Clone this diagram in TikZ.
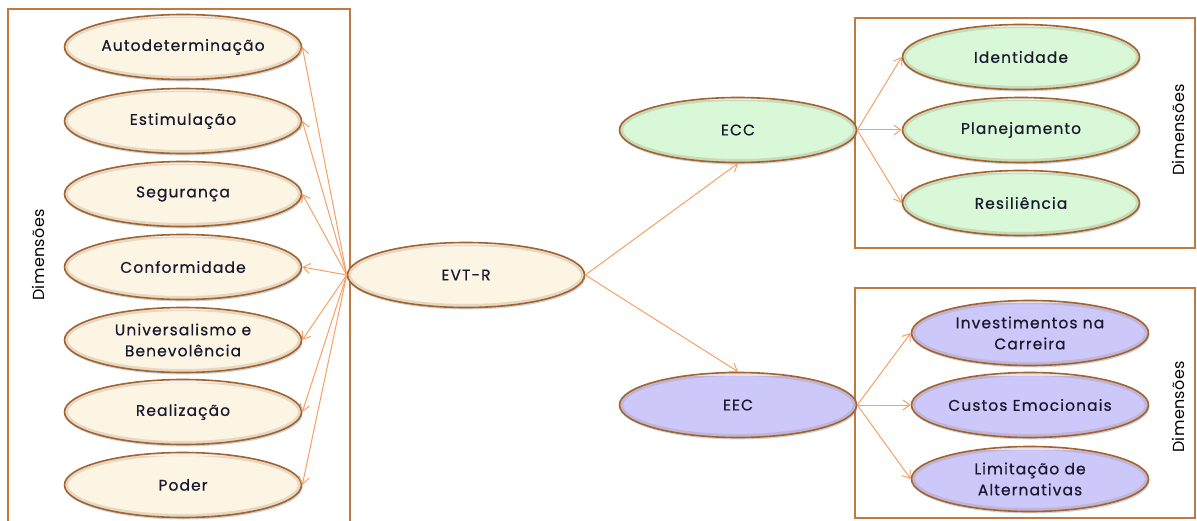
\documentclass[tikz,border=0pt]{standalone}
\usepackage{fontspec}
\setmainfont{Poppins}[LetterSpace=7.0, FakeBold=0.5]
\newfontfamily\dimfont{Poppins}[LetterSpace=2.0]
\usetikzlibrary{shapes.geometric,arrows.meta,shadows}
\definecolor{brd}{RGB}{160,100,50}
\definecolor{boxc}{RGB}{192,122,64}
\definecolor{arr}{RGB}{247,160,100}
\definecolor{cream}{RGB}{253,245,228}
\definecolor{mint}{RGB}{216,248,216}
\definecolor{lav}{RGB}{204,200,250}
\definecolor{rim}{RGB}{150,100,60}
\definecolor{txt}{RGB}{25,25,45}
\begin{document}
\begin{tikzpicture}[x=1pt,y=-1pt,
  oval/.style={ellipse, draw=brd, line width=1.6pt, minimum width=237pt, minimum height=65pt,
    inner sep=0pt, align=center, text=txt, font=\fontsize{15.5}{21}\selectfont,
    drop shadow={shadow xshift=1pt, shadow yshift=-2pt, opacity=0.35},
    path picture={\draw[rim, line width=7pt, opacity=0.2]
      (path picture bounding box.center) ellipse (118.5pt and 32.5pt);
      \draw[white, line width=4pt, opacity=0.6]
      ([yshift=-1pt]path picture bounding box.north west) -- ([yshift=-1pt]path picture bounding box.north east);}},
  cr/.style={oval, fill=cream},
  gr/.style={oval, fill=mint},
  pu/.style={oval, fill=lav},
  frame/.style={draw=boxc, line width=2.5pt},
  conn/.style={draw=arr, line width=1pt, -{Straight Barb[length=7pt,width=10pt]}},
  dim/.style={rotate=90, text=black, font=\dimfont\fontsize{16}{18}\selectfont}]
\useasboundingbox (0,0) rectangle (1197,521);
% frames
\draw[frame] (8,540) -- (8,9) -- (350,9) -- (350,540);
\draw[frame] (855,18) rectangle (1195,248);
\draw[frame] (855,288) rectangle (1195,518);
% left column
\node[cr] (a1) at (183,47) {Autodeterminação};
\node[cr] (a2) at (183,121) {Estimulação};
\node[cr] (a3) at (183,194) {Segurança};
\node[cr] (a4) at (183,267) {Conformidade};
\node[cr] (a5) at (183,340) {Universalismo e\\Benevolência};
\node[cr] (a6) at (183,412) {Realização};
\node[cr] (a7) at (183,485) {Poder};
\node[dim] (d1) at (38,255) {Dimensões};
% center
\node[cr] (evt) at (466,275) {EVT-R};
\node[gr] (ecc) at (738,130) {ECC};
\node[pu] (eec) at (738,405) {EEC};
% right top
\node[gr] (r1) at (1021,57) {Identidade};
\node[gr] (r2) at (1021,130) {Planejamento};
\node[gr] (r3) at (1021,203) {Resiliência};
\node[dim] (d2) at (1178,130) {Dimensões};
% right bottom
\node[pu] (s1) at (1030,333) {Investimentos na\\Carreira};
\node[pu] (s2) at (1030,405) {Custos Emocionais};
\node[pu] (s3) at (1030,479) {Limitação de\\Alternativas};
\node[dim] (d3) at (1178,407) {Dimensões};
% connectors
\foreach \n in {a1,a2,a3,a4,a5,a6,a7}
  \draw[conn] (evt.west) -- (\n.east);
\draw[conn] (evt.east) -- (ecc.south);
\draw[conn] (evt.east) -- (eec.north);
\foreach \n in {r1,r2,r3}
  \draw[conn] (ecc.east) -- (\n.west);
\foreach \n in {s1,s2,s3}
  \draw[conn] (eec.east) -- (\n.west);
\end{tikzpicture}
\end{document}
